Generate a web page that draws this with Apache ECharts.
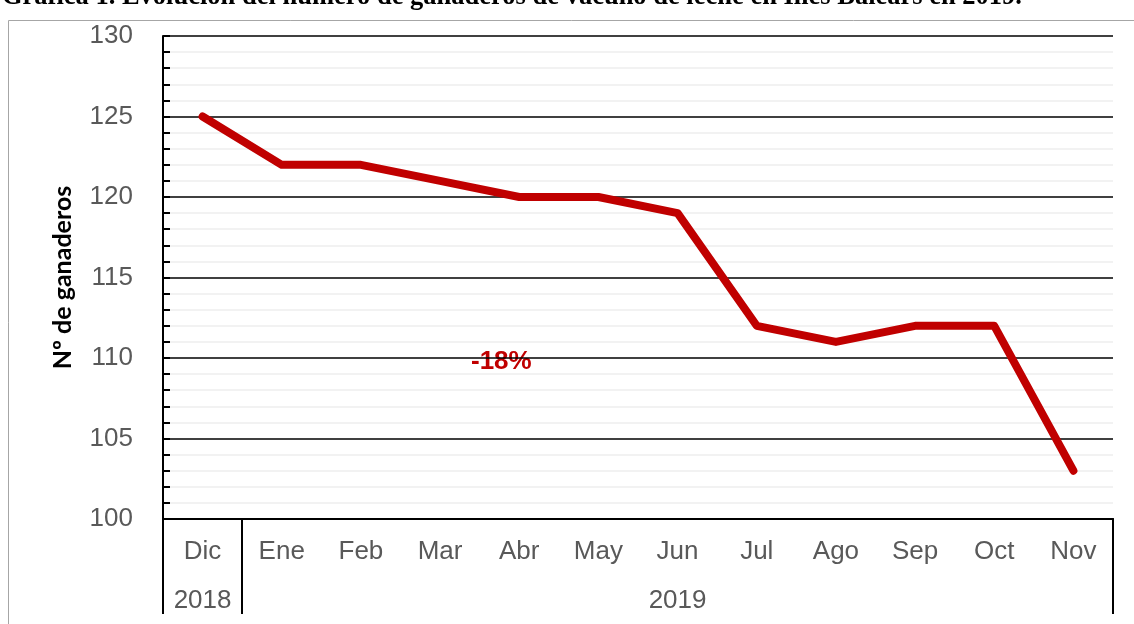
<!DOCTYPE html>
<html>
<head>
<meta charset="utf-8">
<script src="https://cdn.jsdelivr.net/npm/echarts@6/dist/echarts.min.js"></script>
<style>
  html, body { margin: 0; padding: 0; background: #fff; }
  #chart { width: 1134px; height: 624px; }
</style>
</head>
<body>
<div id="chart"></div>
<script>
// datos
var months = ['Dic', 'Ene', 'Feb', 'Mar', 'Abr', 'May', 'Jun', 'Jul', 'Ago', 'Sep', 'Oct', 'Nov'];
var yearLabels = ['2018', '', '', '', '', '', '2019', '', '', '', '', ''];
var ganaderos = [125, 122, 122, 121, 120, 120, 119, 112, 111, 112, 112, 103];
var titleText = 'Gráfica 1. Evolución del número de ganaderos de vacuno de leche en Illes Balears en 2019.';
var changeLabel = '-18%';

var chartDom = document.getElementById('chart');
var myChart = echarts.init(chartDom);
var option;

option = {
    animation: false,
    grid: {
        left: 163,
        right: 21,
        top: 36,
        bottom: 105
    },
    graphic: [
        {
            type: 'rect',
            shape: { x: 8.5, y: 20.5, width: 1200, height: 700 },
            style: { fill: 'none', stroke: '#a6a6a6', lineWidth: 1 }
        },
        {
            type: 'text',
            left: 2,
            top: -16,
            style: {
                text: titleText,
                font: 'bold 26.5px "Liberation Serif"',
                fill: '#000'
            }
        },
        {
            type: 'text',
            left: 471,
            top: 349,
            style: {
                text: changeLabel,
                font: 'bold 26px "Liberation Sans"',
                fill: '#c00000'
            }
        }
    ],
    xAxis: [
        {
            type: 'category',
            data: months,
            boundaryGap: true,
            axisLine: { lineStyle: { color: '#000', width: 2 } },
            axisTick: { inside: true, alignWithLabel: true, length: 6, lineStyle: { color: '#000', width: 2 } },
            axisLabel: {
                color: '#595959',
                fontSize: 26,
                fontFamily: 'Liberation Sans',
                margin: 20
            }
        },
        {
            // segundo nivel de categorias: años
            type: 'category',
            data: yearLabels,
            position: 'bottom',
            boundaryGap: true,
            axisLine: { show: true, lineStyle: { color: '#000', width: 2 } },
            axisTick: {
                show: true,
                length: 95,
                interval: function (index) { return index === 0 || index === 1; },
                lineStyle: { color: '#000', width: 2 }
            },
            axisLabel: {
                interval: 0,
                color: '#595959',
                fontSize: 26,
                fontFamily: 'Liberation Sans',
                margin: 69
            }
        }
    ],
    yAxis: {
        type: 'value',
        min: 100,
        max: 130,
        interval: 5,
        name: 'Nº de ganaderos',
        nameLocation: 'middle',
        nameGap: 88,
        nameTextStyle: {
            fontFamily: 'Lato',
            fontWeight: 'bold',
            fontSize: 25,
            color: '#000'
        },
        axisLine: { show: true, lineStyle: { color: '#000', width: 2 } },
        axisTick: { show: true, inside: true, length: 7, lineStyle: { color: '#000', width: 2 } },
        minorTick: { show: true, splitNumber: 5, length: 7, lineStyle: { color: '#000', width: 2 } },
        axisLabel: {
            color: '#595959',
            fontSize: 26,
            fontFamily: 'Liberation Sans',
            margin: 30
        },
        splitLine: { lineStyle: { color: '#000', width: 1.5 } },
        minorSplitLine: { show: true, lineStyle: { color: '#eeeeee', width: 1.5 } }
    },
    series: [
        {
            name: 'Ganaderos',
            type: 'line',
            data: ganaderos,
            xAxisIndex: 0,
            symbol: 'none',
            lineStyle: { color: '#c00000', width: 8, cap: 'round', join: 'round' },
            z: 5
        }
    ]
};

if (option && typeof option === 'object') {
    myChart.setOption(option);
}
</script>
</body>
</html>
